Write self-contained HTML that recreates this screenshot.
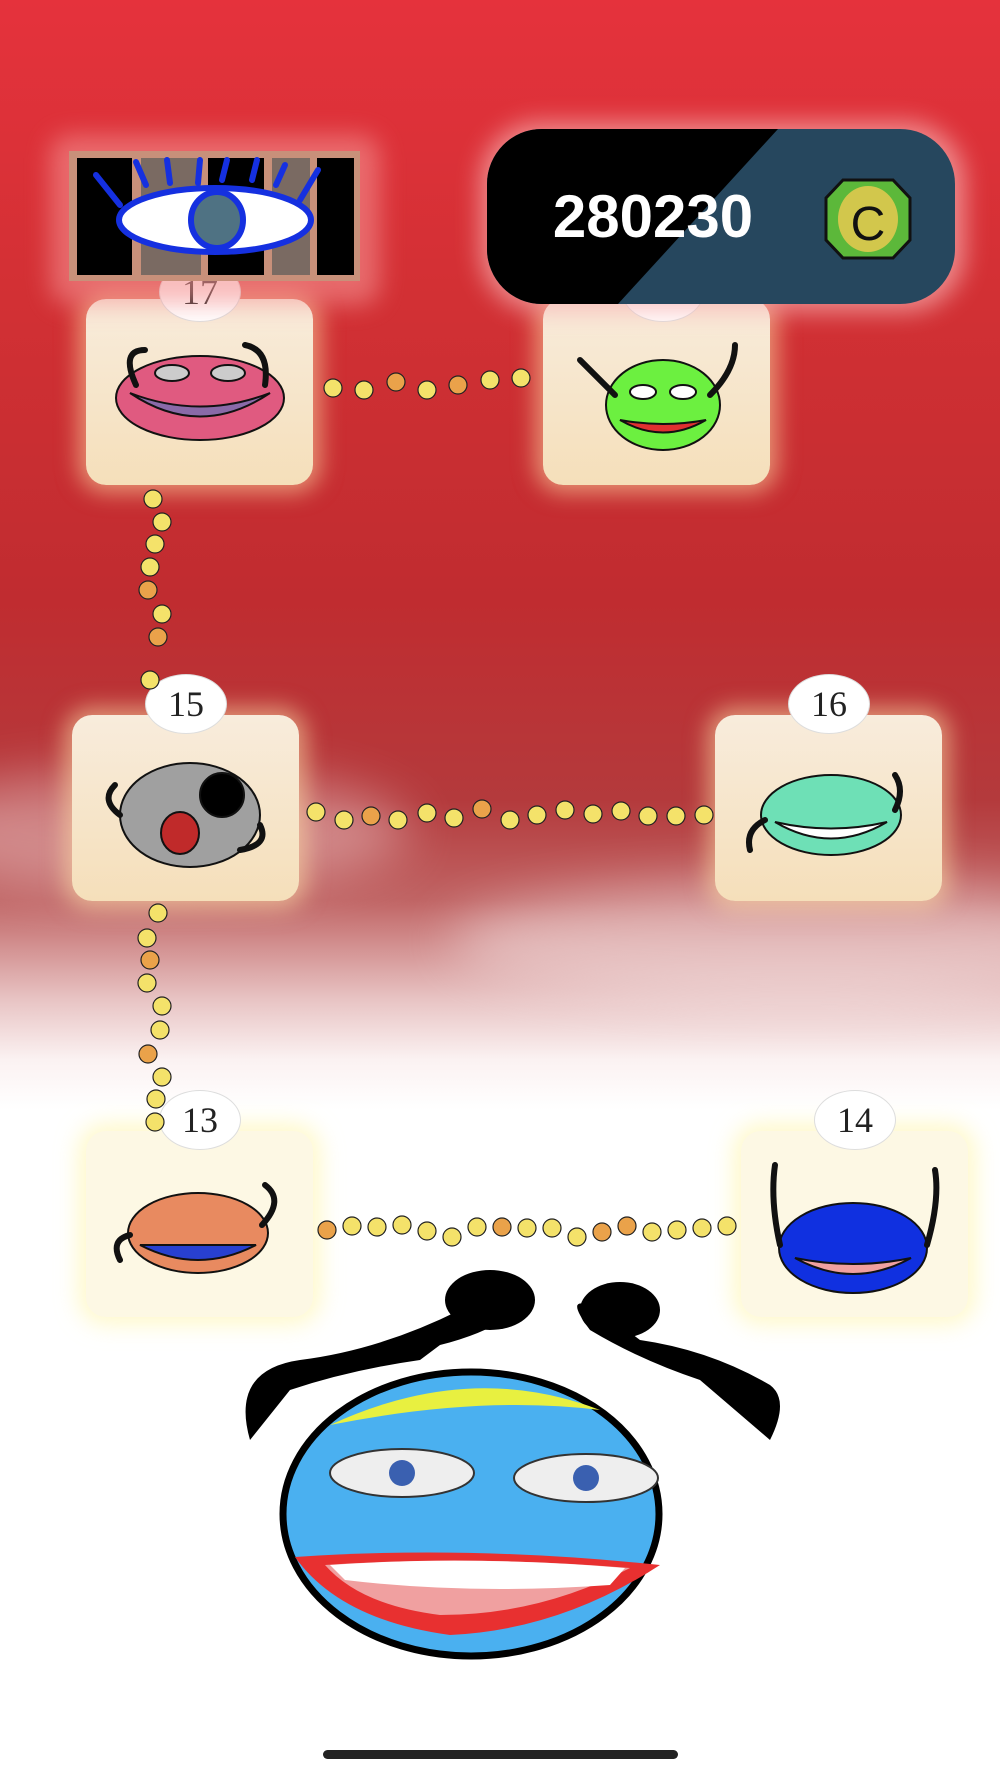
<!DOCTYPE html>
<html><head><meta charset="utf-8"><style>
html,body{margin:0;padding:0;width:1000px;height:1778px;overflow:hidden}
body{background:linear-gradient(to bottom,#e5323c 0px,#d23034 300px,#c02c30 600px,#b43a3c 800px,#c06464 900px,#e8c4c4 1000px,#fbf2f2 1060px,#fff 1110px,#fff 1778px);position:relative;font-family:"Liberation Sans",sans-serif}
.card{position:absolute;width:227px;height:186px;border-radius:20px;background:linear-gradient(#f8ecdc,#f5dfba);box-shadow:0 0 22px 8px rgba(255,225,170,.55)}
.badge{position:absolute;width:80px;height:58px;border-radius:50%;background:#fff;border:1px solid #ddd;font-family:"Liberation Serif",serif;font-size:36px;text-align:center;line-height:58px;color:#222}
</style></head><body>
<svg width="1000" height="1778" style="position:absolute;left:0;top:0" xmlns="http://www.w3.org/2000/svg">
<defs><filter id="bl" x="-50%" y="-50%" width="200%" height="200%"><feGaussianBlur stdDeviation="25"/></filter></defs>
<ellipse cx="150" cy="830" rx="260" ry="60" fill="#fff" opacity=".35" filter="url(#bl)"/>
<ellipse cx="800" cy="940" rx="350" ry="60" fill="#fff" opacity=".4" filter="url(#bl)"/>
</svg>
<div class="card" style="left:86px;top:299px"></div>
<div class="card" style="left:543px;top:299px"></div>
<div class="card" style="left:72px;top:715px"></div>
<div class="card" style="left:715px;top:715px"></div>
<div class="card" style="left:86px;top:1131px;background:#fdf8e4;box-shadow:0 0 22px 8px rgba(255,245,170,.6)"></div>
<div class="card" style="left:741px;top:1131px;background:#fdf8e4;box-shadow:0 0 22px 8px rgba(255,245,170,.6)"></div>
<div class="badge" style="left:159px;top:262px">17</div>
<div class="badge" style="left:622px;top:262px"></div>
<div class="badge" style="left:145px;top:674px">15</div>
<div class="badge" style="left:788px;top:674px">16</div>
<div class="badge" style="left:159px;top:1090px">13</div>
<div class="badge" style="left:814px;top:1090px">14</div>
<svg width="1000" height="1778" style="position:absolute;left:0;top:0" xmlns="http://www.w3.org/2000/svg">
<defs><filter id="gl" x="-30%" y="-30%" width="160%" height="160%"><feGaussianBlur stdDeviation="12"/></filter></defs>
<!-- jail -->
<rect x="50" y="135" width="330" height="170" fill="#f49090" opacity=".6" rx="20" filter="url(#gl)"/>
<rect x="69" y="151" width="291" height="130" fill="#c8907a"/>
<rect x="77" y="158" width="55" height="117" fill="#000"/>
<rect x="141" y="158" width="60" height="117" fill="#7a6a62"/>
<rect x="208" y="158" width="56" height="117" fill="#000"/>
<rect x="272" y="158" width="38" height="117" fill="#7a6a62"/>
<rect x="317" y="158" width="37" height="117" fill="#000"/>
<g stroke="#1530e0" stroke-width="6" stroke-linecap="round" fill="none">
<line x1="96" y1="175" x2="120" y2="205"/><line x1="136" y1="162" x2="146" y2="185"/><line x1="167" y1="160" x2="170" y2="183"/><line x1="200" y1="160" x2="198" y2="183"/><line x1="227" y1="160" x2="222" y2="180"/><line x1="257" y1="160" x2="252" y2="180"/><line x1="285" y1="165" x2="276" y2="185"/><line x1="318" y1="170" x2="300" y2="200"/>
<ellipse cx="215" cy="220" rx="96" ry="32" fill="#fff"/>
<ellipse cx="217" cy="220" rx="26" ry="28" fill="#4f7283"/>
</g>
<!-- score pill -->
<rect x="480" y="122" width="485" height="190" rx="60" fill="#f8b0b0" opacity=".7" filter="url(#gl)"/>
<clipPath id="pc"><rect x="487" y="129" width="468" height="175" rx="55"/></clipPath>
<g clip-path="url(#pc)"><rect x="487" y="129" width="468" height="175" fill="#26475e"/><polygon points="480,129 778,129 618,304 480,304" fill="#000"/></g>
<text x="653" y="237" font-family="Liberation Sans" font-weight="bold" font-size="60" fill="#fff" text-anchor="middle">280230</text>
<polygon points="843,180 893,180 910,198 910,240 893,258 843,258 826,240 826,198" fill="#5cb83a" stroke="#111" stroke-width="3"/>
<ellipse cx="868" cy="219" rx="30" ry="33" fill="#d2c74c"/>
<text x="868" y="240" font-size="48" text-anchor="middle" fill="#111" font-family="Liberation Sans">C</text>
<!-- dots -->
<g fill="#f4e26a" stroke="#222" stroke-width="1.2">
<circle cx="333" cy="388" r="9"/><circle cx="364" cy="390" r="9"/><circle cx="396" cy="382" r="9" fill="#eaa24a"/><circle cx="427" cy="390" r="9"/><circle cx="458" cy="385" r="9" fill="#eaa24a"/><circle cx="490" cy="380" r="9"/><circle cx="521" cy="378" r="9"/>
<circle cx="153" cy="499" r="9"/><circle cx="162" cy="522" r="9"/><circle cx="155" cy="544" r="9"/><circle cx="150" cy="567" r="9"/><circle cx="148" cy="590" r="9" fill="#eaa24a"/><circle cx="162" cy="614" r="9"/><circle cx="158" cy="637" r="9" fill="#eaa24a"/><circle cx="150" cy="680" r="9"/>
<circle cx="316" cy="812" r="9"/><circle cx="344" cy="820" r="9"/><circle cx="371" cy="816" r="9" fill="#eaa24a"/><circle cx="398" cy="820" r="9"/><circle cx="427" cy="813" r="9"/><circle cx="454" cy="818" r="9"/><circle cx="482" cy="809" r="9" fill="#eaa24a"/><circle cx="510" cy="820" r="9"/><circle cx="537" cy="815" r="9"/><circle cx="565" cy="810" r="9"/><circle cx="593" cy="814" r="9"/><circle cx="621" cy="811" r="9"/><circle cx="648" cy="816" r="9"/><circle cx="676" cy="816" r="9"/><circle cx="704" cy="815" r="9"/>
<circle cx="158" cy="913" r="9"/><circle cx="147" cy="938" r="9"/><circle cx="150" cy="960" r="9" fill="#eaa24a"/><circle cx="147" cy="983" r="9"/><circle cx="162" cy="1006" r="9"/><circle cx="160" cy="1030" r="9"/><circle cx="148" cy="1054" r="9" fill="#eaa24a"/><circle cx="162" cy="1077" r="9"/><circle cx="156" cy="1099" r="9"/><circle cx="155" cy="1122" r="9"/>
<circle cx="327" cy="1230" r="9" fill="#eaa24a"/><circle cx="352" cy="1226" r="9"/><circle cx="377" cy="1227" r="9"/><circle cx="402" cy="1225" r="9"/><circle cx="427" cy="1231" r="9"/><circle cx="452" cy="1237" r="9"/><circle cx="477" cy="1227" r="9"/><circle cx="502" cy="1227" r="9" fill="#eaa24a"/><circle cx="527" cy="1228" r="9"/><circle cx="552" cy="1228" r="9"/><circle cx="577" cy="1237" r="9"/><circle cx="602" cy="1232" r="9" fill="#eaa24a"/><circle cx="627" cy="1226" r="9" fill="#eaa24a"/><circle cx="652" cy="1232" r="9"/><circle cx="677" cy="1230" r="9"/><circle cx="702" cy="1228" r="9"/><circle cx="727" cy="1226" r="9"/>
</g>
<!-- card monsters -->
<g stroke="#111" stroke-width="2">
<ellipse cx="200" cy="398" rx="84" ry="42" fill="#e05a80"/>
<path d="M130 393 Q200 440 270 393 Q200 420 130 393Z" fill="#8a6aa8"/>
<ellipse cx="172" cy="373" rx="17" ry="8" fill="#ccc"/><ellipse cx="228" cy="373" rx="17" ry="8" fill="#ccc"/>
<ellipse cx="663" cy="405" rx="57" ry="45" fill="#6cf040"/>
<path d="M620 420 Q663 445 706 420 Q663 428 620 420Z" fill="#e03030"/>
<ellipse cx="643" cy="392" rx="13" ry="7" fill="#fff"/><ellipse cx="683" cy="392" rx="13" ry="7" fill="#fff"/>
<ellipse cx="190" cy="815" rx="70" ry="52" fill="#a0a0a0"/>
<circle cx="222" cy="795" r="22" fill="#000"/>
<ellipse cx="180" cy="833" rx="19" ry="21" fill="#c02a2a"/>
<ellipse cx="831" cy="815" rx="70" ry="40" fill="#6ee0b6"/>
<path d="M775 822 Q831 855 887 822 Q831 835 775 822Z" fill="#fff"/>
<ellipse cx="198" cy="1233" rx="70" ry="40" fill="#e88a60"/>
<path d="M140 1245 Q198 1275 256 1245Z" fill="#2840d0"/>
<ellipse cx="853" cy="1248" rx="74" ry="45" fill="#1030e0"/>
<path d="M795 1258 Q853 1290 911 1258 Q853 1270 795 1258Z" fill="#f0a0a0"/>
</g>
<g stroke="#111" stroke-width="6" fill="none" stroke-linecap="round">
<path d="M136 385 Q120 350 145 350"/><path d="M265 385 Q270 350 245 345"/>
<path d="M615 395 Q590 370 580 360"/><path d="M710 395 Q735 370 735 345"/>
<path d="M120 815 Q100 800 115 785 M260 825 Q270 845 240 850"/>
<path d="M765 820 Q745 830 750 850 M895 810 Q905 790 895 775"/>
<path d="M130 1235 Q110 1240 120 1260 M262 1225 Q285 1200 265 1185"/>
<path d="M780 1245 Q770 1200 775 1165 M927 1245 Q940 1200 935 1170"/>
</g>
<!-- big face -->
<g fill="#000">
<path d="M250 1440 Q230 1370 300 1360 Q380 1350 460 1310 L470 1290 Q520 1270 530 1300 Q500 1330 440 1345 L420 1360 Q350 1370 290 1390 Z"/>
<path d="M770 1440 Q790 1400 770 1385 Q710 1350 640 1340 L600 1310 Q560 1290 590 1330 Q640 1360 700 1380 Z"/>
<ellipse cx="490" cy="1300" rx="45" ry="30"/><ellipse cx="620" cy="1310" rx="40" ry="28"/>
</g>
<ellipse cx="471" cy="1514" rx="188" ry="142" fill="#4ab0f0" stroke="#000" stroke-width="7"/>
<path d="M330 1425 Q470 1360 600 1410 Q480 1395 330 1425Z" fill="#e8f040"/>
<ellipse cx="402" cy="1473" rx="72" ry="24" fill="#eee" stroke="#333" stroke-width="2"/><circle cx="402" cy="1473" r="13" fill="#3a60b0"/>
<ellipse cx="586" cy="1478" rx="72" ry="24" fill="#eee" stroke="#333" stroke-width="2"/><circle cx="586" cy="1478" r="13" fill="#3a60b0"/>
<path d="M295 1557 Q470 1545 660 1565 Q560 1630 450 1635 Q340 1620 295 1557Z" fill="#e83030"/>
<path d="M325 1565 Q470 1555 630 1568 Q540 1615 440 1615 Q360 1605 325 1565Z" fill="#f0a0a0"/>
<path d="M330 1565 Q470 1555 625 1568 L610 1585 Q470 1595 345 1580Z" fill="#fff"/>
<rect x="323" y="1750" width="355" height="9" rx="4.5" fill="#222"/>
</svg>
</body></html>
